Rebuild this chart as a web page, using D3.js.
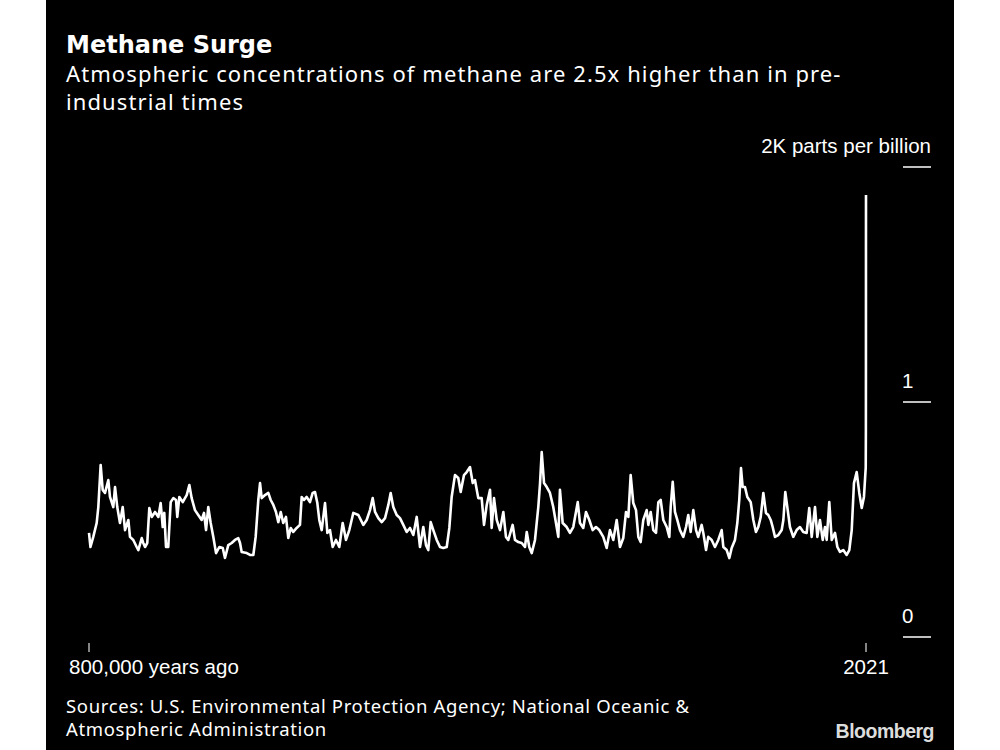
<!DOCTYPE html>
<html>
<head>
<meta charset="utf-8">
<script src="https://cdn.jsdelivr.net/npm/d3@7"></script>
<style>
  html, body { margin: 0; padding: 0; background: #ffffff; }
  svg { display: block; }
</style>
</head>
<body>
<svg id="chart" width="1000" height="750"></svg>
<script>
// ---- Data (thousands of years before 2021, methane in ppb) ----
const kaBefore2021 = [
  800.0, 798.5, 795.6, 792.1, 790.4, 788.0, 785.9, 783.5, 780.1, 778.4,
  775.0, 773.2, 770.9, 768.1, 765.3, 762.9, 759.5, 757.8, 754.4, 750.9,
  749.2, 745.7, 744.1, 742.3, 740.0, 737.9, 735.4, 732.0, 728.6, 726.2,
  724.1, 722.5, 720.7, 718.4, 715.9, 713.2, 710.4, 709.1, 707.0, 703.5,
  701.2, 699.4, 696.7, 694.3, 690.9, 687.5, 684.0, 681.6, 679.5, 677.2,
  674.7, 672.0, 669.2, 665.8, 662.3, 660.0, 656.6, 653.1, 649.7, 646.3,
  644.5, 642.8, 637.6, 634.2, 630.8, 628.4, 625.7, 623.9, 622.2, 618.8,
  615.4, 612.9, 610.2, 607.5, 605.1, 602.6, 600.0, 597.2, 594.8, 592.3,
  589.7, 586.2, 582.8, 581.0, 578.6, 575.9, 572.5, 569.7, 567.3, 564.9,
  562.9, 560.4, 557.0, 554.6, 551.9, 549.1, 545.7, 542.3, 538.8, 535.4,
  532.0, 527.9, 522.7, 517.6, 514.1, 510.7, 507.9, 505.5, 502.1, 498.6,
  495.2, 491.8, 489.4, 486.7, 483.2, 479.8, 476.4, 472.9, 469.5, 466.1,
  462.6, 459.2, 455.8, 453.0, 450.7, 448.2, 445.5, 442.0, 438.6, 435.2,
  431.7, 429.0, 426.6, 423.2, 419.8, 417.3, 413.9, 411.1, 407.7, 404.9,
  402.6, 399.2, 395.7, 393.3, 390.5, 387.1, 385.4, 383.0, 380.2, 376.8,
  373.4, 370.7, 368.3, 363.8, 361.4, 358.0, 354.5, 351.1, 349.3, 346.7,
  344.2, 340.8, 337.4, 335.6, 333.9, 331.5, 328.7, 325.4, 322.0, 319.2,
  316.8, 315.1, 312.3, 308.2, 304.8, 301.4, 296.8, 294.5, 291.1, 288.3,
  284.9, 281.4, 278.0, 274.6, 270.5, 267.0, 263.6, 260.2, 256.7, 253.3,
  249.9, 247.1, 244.7, 242.3, 239.6, 236.8, 234.4, 232.0, 229.3, 225.8,
  224.1, 221.7, 219.0, 216.2, 213.8, 211.4, 208.7, 205.2, 202.5, 201.1,
  199.0, 196.7, 194.3, 191.5, 188.1, 185.3, 183.0, 180.5, 177.8, 175.0,
  172.7, 169.2, 167.5, 164.7, 162.4, 158.9, 155.5, 152.1, 148.6, 146.9,
  143.4, 140.7, 138.3, 134.9, 132.5, 130.5, 128.7, 127.0, 124.6, 122.2,
  118.7, 116.0, 113.3, 110.9, 108.4, 105.7, 103.0, 100.6, 98.1, 96.1,
  93.7, 90.3, 86.8, 85.1, 83.1, 80.6, 78.3, 74.9, 71.4, 68.0,
  64.6, 61.1, 58.4, 55.9, 52.5, 50.1, 47.4, 44.6, 42.2, 40.5,
  37.8, 35.3, 31.9, 29.5, 26.8, 23.4, 19.9, 17.2, 14.7, 12.4,
  9.6, 6.9, 4.4, 2.1, 0.27, 0.121, 0.071, 0.037, 0.0
];
const methanePpb = [
  443, 383, 426, 485, 553, 732, 626, 613, 668, 596,
  553, 638, 553, 485, 553, 455, 498, 426, 413, 383,
  370, 421, 400, 383, 400, 549, 511, 532, 511, 570,
  468, 528, 383, 383, 574, 591, 583, 511, 596, 574,
  591, 604, 647, 591, 540, 519, 498, 528, 455, 553,
  485, 426, 357, 383, 379, 336, 391, 400, 413, 421,
  400, 362, 357, 349, 349, 426, 583, 655, 591, 604,
  613, 583, 562, 532, 489, 532, 485, 511, 421, 464,
  447, 464, 477, 596, 583, 596, 574, 613, 617, 570,
  498, 455, 570, 443, 455, 383, 413, 383, 485, 413,
  455, 528, 519, 477, 498, 540, 591, 532, 506, 489,
  506, 562, 613, 553, 519, 506, 477, 447, 464, 434,
  511, 383, 468, 391, 370, 489, 455, 413, 383, 379,
  383, 464, 596, 689, 677, 617, 689, 702, 723, 655,
  668, 591, 591, 477, 562, 626, 464, 591, 498, 455,
  532, 426, 413, 477, 413, 404, 400, 383, 447, 383,
  357, 413, 553, 655, 787, 655, 638, 613, 553, 485,
  426, 626, 485, 468, 443, 468, 574, 485, 464, 532,
  498, 455, 468, 455, 426, 379, 455, 413, 498, 383,
  421, 532, 511, 689, 570, 540, 426, 404, 498, 540,
  477, 532, 455, 443, 574, 583, 498, 468, 426, 553,
  660, 532, 498, 455, 426, 468, 519, 447, 540, 455,
  426, 477, 443, 370, 426, 413, 383, 413, 455, 383,
  370, 336, 379, 413, 485, 583, 719, 638, 638, 596,
  574, 498, 447, 468, 511, 613, 528, 519, 498, 468,
  426, 434, 455, 498, 617, 540, 468, 426, 455, 468,
  447, 443, 549, 426, 553, 426, 498, 413, 468, 413,
  574, 413, 443, 383, 362, 370, 349, 370, 455, 655,
  702, 613, 549, 596, 722, 880, 1150, 1645, 1881
];
const yTickValues = [0, 1000, 2000];
const yTickLabels = ["0", "1", "2K parts per billion"];
const xTickValues = [800, 0];
const xTickLabels = ["800,000 years ago", "2021"];

const titleText = "Methane Surge";
const subtitleLines = [
  "Atmospheric concentrations of methane are 2.5x higher than in pre-",
  "industrial times"
];
const sourceLines = [
  "Sources: U.S. Environmental Protection Agency; National Oceanic &",
  "Atmospheric Administration"
];

// ---- Drawing ----
const svg = d3.select("#chart");
const uiFont = "'Noto Sans', 'Open Sans', sans-serif";
const titleFont = "'DejaVu Sans', Verdana, sans-serif";
const axisFont = "'Liberation Sans', Arial, sans-serif";

svg.append("rect").attr("x", 46).attr("y", 0).attr("width", 908).attr("height", 750).attr("fill", "#000");

svg.append("text").attr("x", 66).attr("y", 53)
  .attr("font-family", titleFont).attr("font-weight", 700).attr("font-size", 24)
  .attr("fill", "#fff").text(titleText);

subtitleLines.forEach((t, i) => {
  svg.append("text").attr("x", 66).attr("y", 82 + i * 28)
    .attr("font-family", uiFont).attr("font-size", 22)
    .attr("letter-spacing", 1.1)
    .attr("fill", "#fff").text(t);
});

const x = d3.scaleLinear().domain([800, 0]).range([89, 866]);
const y = d3.scaleLinear().domain([0, 2000]).range([637, 167]);

// y ticks
const yg = svg.append("g");
yTickValues.forEach((v, i) => {
  yg.append("line").attr("x1", 903).attr("x2", 931)
    .attr("y1", y(v)).attr("y2", y(v))
    .attr("stroke", "#fff").attr("stroke-width", 1.5);
  const last = i === yTickValues.length - 1;
  yg.append("text")
    .attr("x", last ? 931 : 902)
    .attr("y", y(v) - 14)
    .attr("text-anchor", last ? "end" : "start")
    .attr("font-family", axisFont).attr("font-size", 20.5)
    .attr("fill", "#fff").text(yTickLabels[i]);
});

// x ticks
const xg = svg.append("g");
xTickValues.forEach((v, i) => {
  xg.append("line").attr("x1", x(v)).attr("x2", x(v))
    .attr("y1", 643).attr("y2", 652)
    .attr("stroke", "#ddd").attr("stroke-width", 1.2);
  xg.append("text")
    .attr("x", i === 0 ? 69 : x(v))
    .attr("y", 674)
    .attr("text-anchor", i === 0 ? "start" : "middle")
    .attr("font-family", axisFont).attr("font-size", 20.5)
    .attr("fill", "#fff").text(xTickLabels[i]);
});

// data line
const pts = kaBefore2021.map((k, i) => [k, methanePpb[i]]);
const line = d3.line().x(d => x(d[0])).y(d => y(d[1]));
svg.append("path").datum(pts)
  .attr("d", line)
  .attr("fill", "none").attr("stroke", "#fff")
  .attr("stroke-width", 2.6).attr("stroke-linejoin", "round");

// sources
sourceLines.forEach((t, i) => {
  svg.append("text").attr("x", 66).attr("y", 713 + i * 23)
    .attr("font-family", uiFont).attr("font-size", 18.5)
    .attr("letter-spacing", 0.65)
    .attr("fill", "#fff").text(t);
});

svg.append("text").attr("x", 934).attr("y", 738)
  .attr("text-anchor", "end")
  .attr("font-family", axisFont).attr("font-weight", 700).attr("font-size", 19.5)
  .attr("letter-spacing", -0.5)
  .attr("fill", "#ddd").text("Bloomberg");
</script>
</body>
</html>
